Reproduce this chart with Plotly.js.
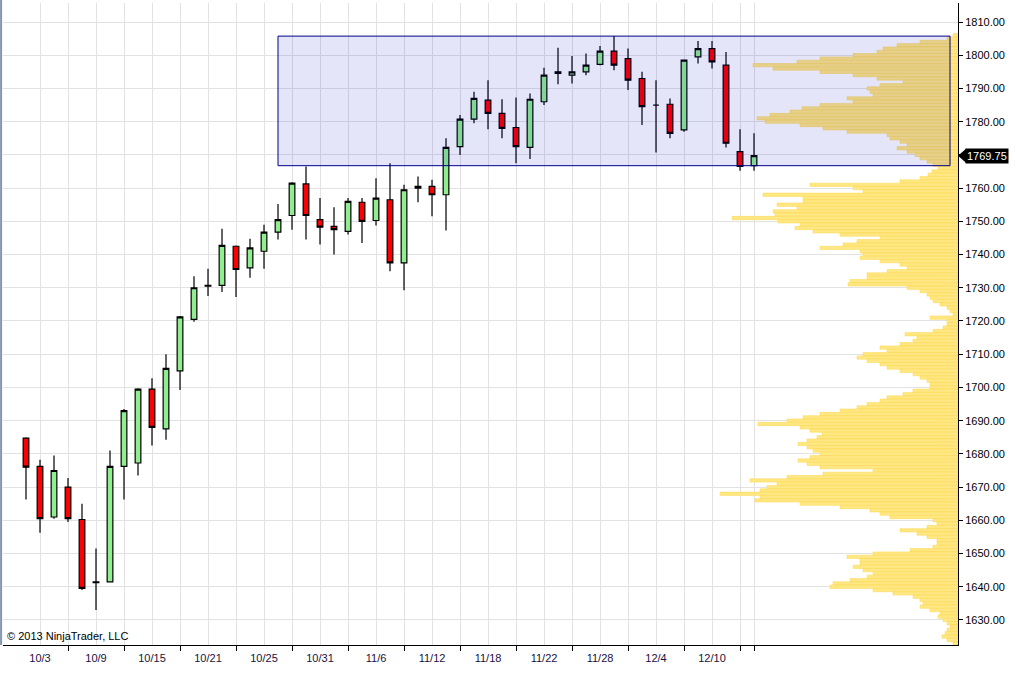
<!DOCTYPE html>
<html><head><meta charset="utf-8">
<script src="https://cdn.plot.ly/plotly-3.0.1.min.js"></script>
<style>html,body{margin:0;padding:0;background:#fff;}#chart{width:1016px;height:673px;}</style>
</head><body><div id="chart"></div>
<script>
const dates = ['10/2','10/3','10/4','10/7','10/8','10/9','10/10','10/11','10/14','10/15','10/16','10/17','10/18','10/21','10/22','10/23','10/24','10/25','10/28','10/29','10/30','10/31',
'11/1','11/4','11/5','11/6','11/7','11/8','11/11','11/12','11/13','11/14','11/15','11/18','11/19','11/20','11/21','11/22','11/25','11/26','11/27','11/28','11/29',
'12/2','12/3','12/4','12/5','12/6','12/9','12/10','12/11','12/12','12/13'];
const openP  = [1684.75,1676.25,1661,1670,1660.25,1641.25,1641.5,1676.25,1677.25,1699.5,1687.5,1705,1720.5,1730.5,1730.75,1742.5,1736,1741,1746.75,1751.75,1761.25,1750.5,
1748.5,1747,1755.75,1750.25,1756.5,1737.5,1760,1760.5,1758,1772.5,1780.75,1786.5,1782.5,1778.25,1772.25,1786,1795,1794,1795,1797.25,1801.25,
1799,1793,1785,1785.25,1777.5,1799.5,1802,1797,1771,1766.75];
const highP  = [1685,1678.25,1679.5,1672.75,1665,1651.5,1681,1693.5,1699.75,1702.75,1710,1721.5,1733.5,1735.75,1747.75,1742.75,1744.75,1749,1755.25,1761.75,1766.5,1757,
1754.25,1757,1757,1763,1767.5,1761,1763.5,1762.5,1775,1782,1789,1792.5,1786.75,1787.25,1788.5,1796.25,1802.25,1799.75,1800.5,1802.75,1805.75,
1802,1795,1792.5,1787,1798.75,1804.25,1804.25,1801,1777.75,1776.5];
const lowP   = [1666.25,1656.25,1660.5,1659.5,1639,1633,1641.25,1666.25,1673.5,1682.5,1684.25,1699.25,1719.75,1727.5,1728.75,1727.25,1733,1735.75,1744.5,1747.5,1744.5,1743,
1740,1746,1743.5,1748.75,1735,1729.25,1755.75,1751.5,1747.25,1770,1779.5,1777.75,1775,1767.5,1768.75,1785,1791.25,1791.5,1794,1797,1795.5,
1789.5,1779,1770.75,1775,1777,1797.5,1796,1772.25,1765.25,1765.25];
const closeP = [1676,1660.5,1675,1660.5,1639.5,1641.5,1676.25,1693,1699.5,1688,1705.75,1721.25,1730,1730.75,1742.75,1735.5,1742,1746.75,1750.5,1761.5,1751.75,1748.25,
1747.5,1756,1750,1757,1737.5,1759.5,1760.5,1758,1772.25,1780.75,1787,1782.5,1778,1772.5,1786.75,1794,1794.5,1795,1797,1801.25,1797,
1792.5,1784.5,1785,1776.5,1798.5,1802,1798,1773.5,1766.5,1769.75];

const profilePrice = [1806,1805,1804,1803,1802,1801,1800,1799,1798,1797,1796,1795,1794,1793,1792,1791,1790,1789,1788,1787,1786,1785,1784,1783,1782,1781,1780,1779,1778,1777,1776,1775,1774,1773,1772,1771,1770,1769,1768,1767,
1766,1765,1764,1763,1762,1761,1760,1759,1758,1757,1756,1755,1754,1753,1752,1751,1750,1749,1748,1747,1746,1745,1744,1743,1742,1741,1740,1739,1738,1737,1736,1735,1734,1733,1732,1731,1730,1729,1728,1727,1726,1725,1724,1723,1722,1721,1720,
1719,1718,1717,1716,1715,1714,1713,1712,1711,1710,1709,1708,1707,1706,1705,1704,1703,1702,1701,1700,1699,1698,1697,1696,1695,1694,1693,1692,1691,1690,1689,1688,1687,1686,1685,1684,1683,1682,1681,1680,
1679,1678,1677,1676,1675,1674,1673,1672,1671,1670,1669,1668,1667,1666,1665,1664,1663,1662,1661,1660,1659,1658,1657,1656,1655,1654,1653,1652,1651,1650,1649,1648,1647,1646,1645,1644,1643,1642,1641,1640,
1639,1638,1637,1636,1635,1634,1633,1632,1631,1630,1629,1628,1627,1626,1625,1624,1623];
const profileVol = [5,11,38,61,75,81,105,138,161,205,185,138,105,81,55,78,91,88,85,111,105,138,156,168,188,201,193,158,135,111,71,68,58,51,61,51,43,38,31,25,
20,26,30,38,58,148,105,95,195,155,155,181,161,185,183,226,180,158,163,145,118,78,101,115,138,98,95,98,78,58,51,71,91,91,108,110,51,38,31,28,25,18,11,8,5,28,11,
11,15,25,53,41,45,58,78,71,95,101,91,78,71,58,45,38,31,28,28,45,55,71,78,91,101,118,138,155,171,200,158,148,136,141,151,160,151,145,138,
148,160,151,138,85,135,171,208,181,191,198,238,198,203,158,118,88,78,68,25,21,31,58,41,31,21,21,25,48,85,111,98,98,105,95,85,91,108,125,128,
85,65,45,38,35,38,28,18,20,15,11,8,11,13,16,11,5];

const boxStart = 19, boxEnd = 67, boxLow = 1766.75, boxHigh = 1805.75;
const lastPrice = closeP[closeP.length - 1];
const yRange = [1622.47, 1815.72];

const idx = dates.map((d, i) => i + 1);
const labelVals = idx.filter(i => i % 4 === 2);
const labelText = labelVals.map(i => dates[i - 1]);
const minorVals = idx.filter(i => i % 4 === 0).concat([idx.length]);

const profile = {
  type: 'bar', orientation: 'h', y: profilePrice, x: profileVol,
  xaxis: 'x2', yaxis: 'y',
  marker: {color: '#FFE783', line: {color: '#FCD64A', width: 0.5}},
  hoverinfo: 'skip', showlegend: false
};
const candles = {
  type: 'candlestick', x: idx, open: openP, high: highP, low: lowP, close: closeP,
  increasing: {fillcolor: '#90EE90', line: {color: '#000', width: 1.2}},
  decreasing: {fillcolor: '#FF0000', line: {color: '#000', width: 1.2}},
  whiskerwidth: 0, showlegend: false, hoverinfo: 'skip'
};

// paper-space position of the last-price tag arrow
const W = 1016 - 3 - 58, H = 673 - 3 - 28;
const yp = (lastPrice - yRange[0]) / (yRange[1] - yRange[0]);
const tipPath = `M 1,${yp} L ${1 + 8 / W},${yp + 7 / H} L ${1 + 8 / W},${yp - 7 / H} Z`;

const gridC = '#E2E2E2';
const layout = {
  width: 1016, height: 673,
  margin: {l: 3, r: 58, t: 3, b: 28},
  paper_bgcolor: '#fff', plot_bgcolor: '#fff',
  showlegend: false, bargap: 0, boxgap: 0.42,
  font: {family: 'Liberation Sans, Arial, sans-serif', size: 11, color: '#000'},
  xaxis: {
    type: 'linear', range: [-0.643, 67.57], rangeslider: {visible: false},
    tickmode: 'array', tickvals: labelVals, ticktext: labelText, ticks: '', ticklabelstandoff: 3,
    showgrid: true, gridcolor: gridC, gridwidth: 1, zeroline: false,
    showline: true, linecolor: '#000', linewidth: 1,
    tickfont: {size: 11, color: '#1a1040', family: 'Liberation Sans, Arial, sans-serif'},
    minor: {tickmode: 'array', tickvals: minorVals, ticks: 'outside', ticklen: 5, tickcolor: '#000', showgrid: true, gridcolor: gridC}
  },
  xaxis2: {overlaying: 'x', anchor: 'y', range: [955, 0], visible: false, fixedrange: true},
  yaxis: {
    side: 'right', range: yRange, dtick: 10, tick0: 0, tickformat: '.2f',
    ticks: 'outside', ticklen: 4, tickcolor: '#000', showline: true, linecolor: '#000', linewidth: 1,
    showgrid: true, gridcolor: gridC, zeroline: false,
    tickfont: {size: 11, color: '#000', family: 'Liberation Sans, Arial, sans-serif'}
  },
  shapes: [
    {type: 'rect', xref: 'x', yref: 'y', x0: boxStart, x1: boxEnd, y0: boxLow, y1: boxHigh,
     fillcolor: 'rgba(0,0,200,0.1)', line: {color: '#00008B', width: 1}, layer: 'above'},
    {type: 'line', xref: 'paper', yref: 'paper', x0: -0.002, x1: -0.002, y0: 0, y1: 1.01,
     line: {color: '#8594B0', width: 2}},
    {type: 'path', xref: 'paper', yref: 'paper', path: tipPath, fillcolor: '#000', line: {width: 0}}
  ],
  annotations: [
    {xref: 'paper', yref: 'paper', x: 0, y: 0, xanchor: 'left', yanchor: 'bottom', xshift: 2, yshift: 1,
     text: '© 2013 NinjaTrader, LLC', showarrow: false, font: {size: 11, color: '#000', family: 'Liberation Sans Narrow, Liberation Sans, Arial, sans-serif'}},
    {xref: 'paper', yref: 'y', x: 1, y: lastPrice, xanchor: 'left', yanchor: 'middle', xshift: 7,
     text: lastPrice.toFixed(2), showarrow: false, bgcolor: '#000', borderpad: 1,
     font: {size: 11, color: '#fff', family: 'Liberation Sans, Arial, sans-serif'}}
  ]
};
Plotly.newPlot('chart', [profile, candles], layout, {staticPlot: true, displayModeBar: false});
</script>
</body></html>
